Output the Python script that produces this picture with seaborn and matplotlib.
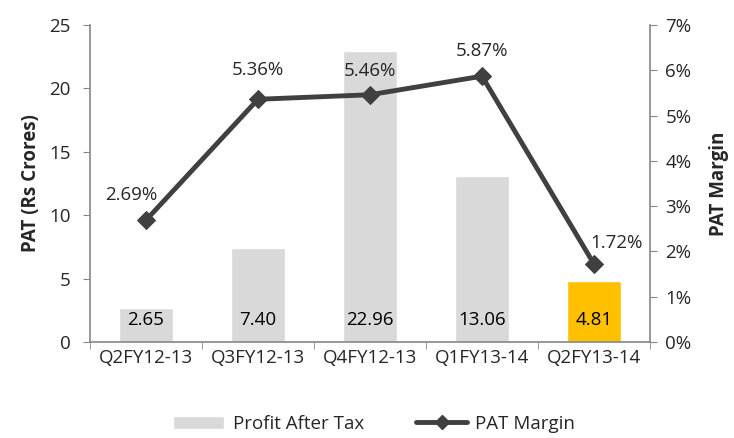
import numpy as np
import pandas as pd
import matplotlib.pyplot as plt
from matplotlib.lines import Line2D
from matplotlib.patches import Patch
import seaborn as sns

quarters = ['Q2FY12-13', 'Q3FY12-13', 'Q4FY12-13', 'Q1FY13-14', 'Q2FY13-14']
pat = [2.65, 7.40, 22.96, 13.06, 4.81]
margin = [2.69, 5.36, 5.46, 5.87, 1.72]
bar_colors = ['#D9D9D9', '#D9D9D9', '#D9D9D9', '#D9D9D9', '#FFC000']

sns.set_style('white')
plt.rcParams['font.family'] = ['Open Sans', 'DejaVu Sans']
FS = 13.5

df = pd.DataFrame({'quarter': quarters, 'pat': pat, 'margin': margin})

fig = plt.figure(figsize=(7.34, 4.38), dpi=100)
ax = fig.add_axes([0.1226, 0.2192, 0.763, 0.7237])

sns.barplot(data=df, x='quarter', y='pat', hue='quarter', palette=bar_colors,
            width=0.49, legend=False, ax=ax, saturation=1)
ax.set_ylim(0, 25)
ax.set_yticks(range(0, 26, 5))
ax.set_xlim(-0.5, 4.5)
ax.set_xlabel('')
ax.set_ylabel('PAT (Rs Crores)', fontsize=FS, fontweight='bold', labelpad=6)

# data labels near bar base
for i, v in enumerate(pat):
    ax.text(i, 1.7, f'{v:.2f}', ha='center', va='center', fontsize=FS, color='black')

ax2 = ax.twinx()
sns.lineplot(x=np.arange(len(quarters)), y=margin, ax=ax2, color='#404040', lw=3.5,
             marker='D', markersize=9, markeredgecolor='#404040')
ax2.set_ylim(0, 7)
ax2.set_yticks(range(0, 8))
ax2.set_yticklabels([f'{t}%' for t in range(0, 8)])
ax2.set_xlim(-0.5, 4.5)
ax2.set_ylabel('PAT Margin', fontsize=FS, fontweight='bold', labelpad=13)

offsets = [(-0.13, 0.55), (0, 0.64), (0, 0.53), (0, 0.55), (0.2, 0.46)]
for i, (m, off) in enumerate(zip(margin, offsets)):
    ax2.text(i + off[0], m + off[1], f'{m:.2f}%', ha='center', va='center', fontsize=FS)

for a in (ax, ax2):
    for s in a.spines.values():
        s.set_visible(False)
ax.spines['left'].set_visible(True)
ax.spines['bottom'].set_visible(True)
ax2.spines['right'].set_visible(True)
for s in (ax.spines['left'], ax.spines['bottom'], ax2.spines['right']):
    s.set_color('#868686')
    s.set_linewidth(1.2)

ax.tick_params(axis='y', direction='out', length=5, color='#868686', labelsize=FS, left=True, pad=9)
ax2.tick_params(axis='y', direction='out', length=5, color='#868686', labelsize=FS, right=True, pad=6)
ax.set_xticks(np.arange(len(quarters)))
ax.set_xticks(np.arange(-0.5, 5, 1), minor=True)
ax.tick_params(axis='x', which='major', length=0, pad=5, labelsize=FS)
ax.tick_params(axis='x', which='minor', length=5, color='#868686', direction='out', bottom=True)

handles = [Patch(facecolor='#D9D9D9', label='Profit After Tax'),
           Line2D([0], [0], color='#404040', lw=3.5, marker='D', markersize=7, label='PAT Margin')]
fig.legend(handles=handles, loc='center', bbox_to_anchor=(0.51, 0.032), ncol=2,
           frameon=False, fontsize=FS, handlelength=2.7, handletextpad=0.45,
           columnspacing=2.8, borderpad=0)

fig.savefig('out.png', dpi=100)
